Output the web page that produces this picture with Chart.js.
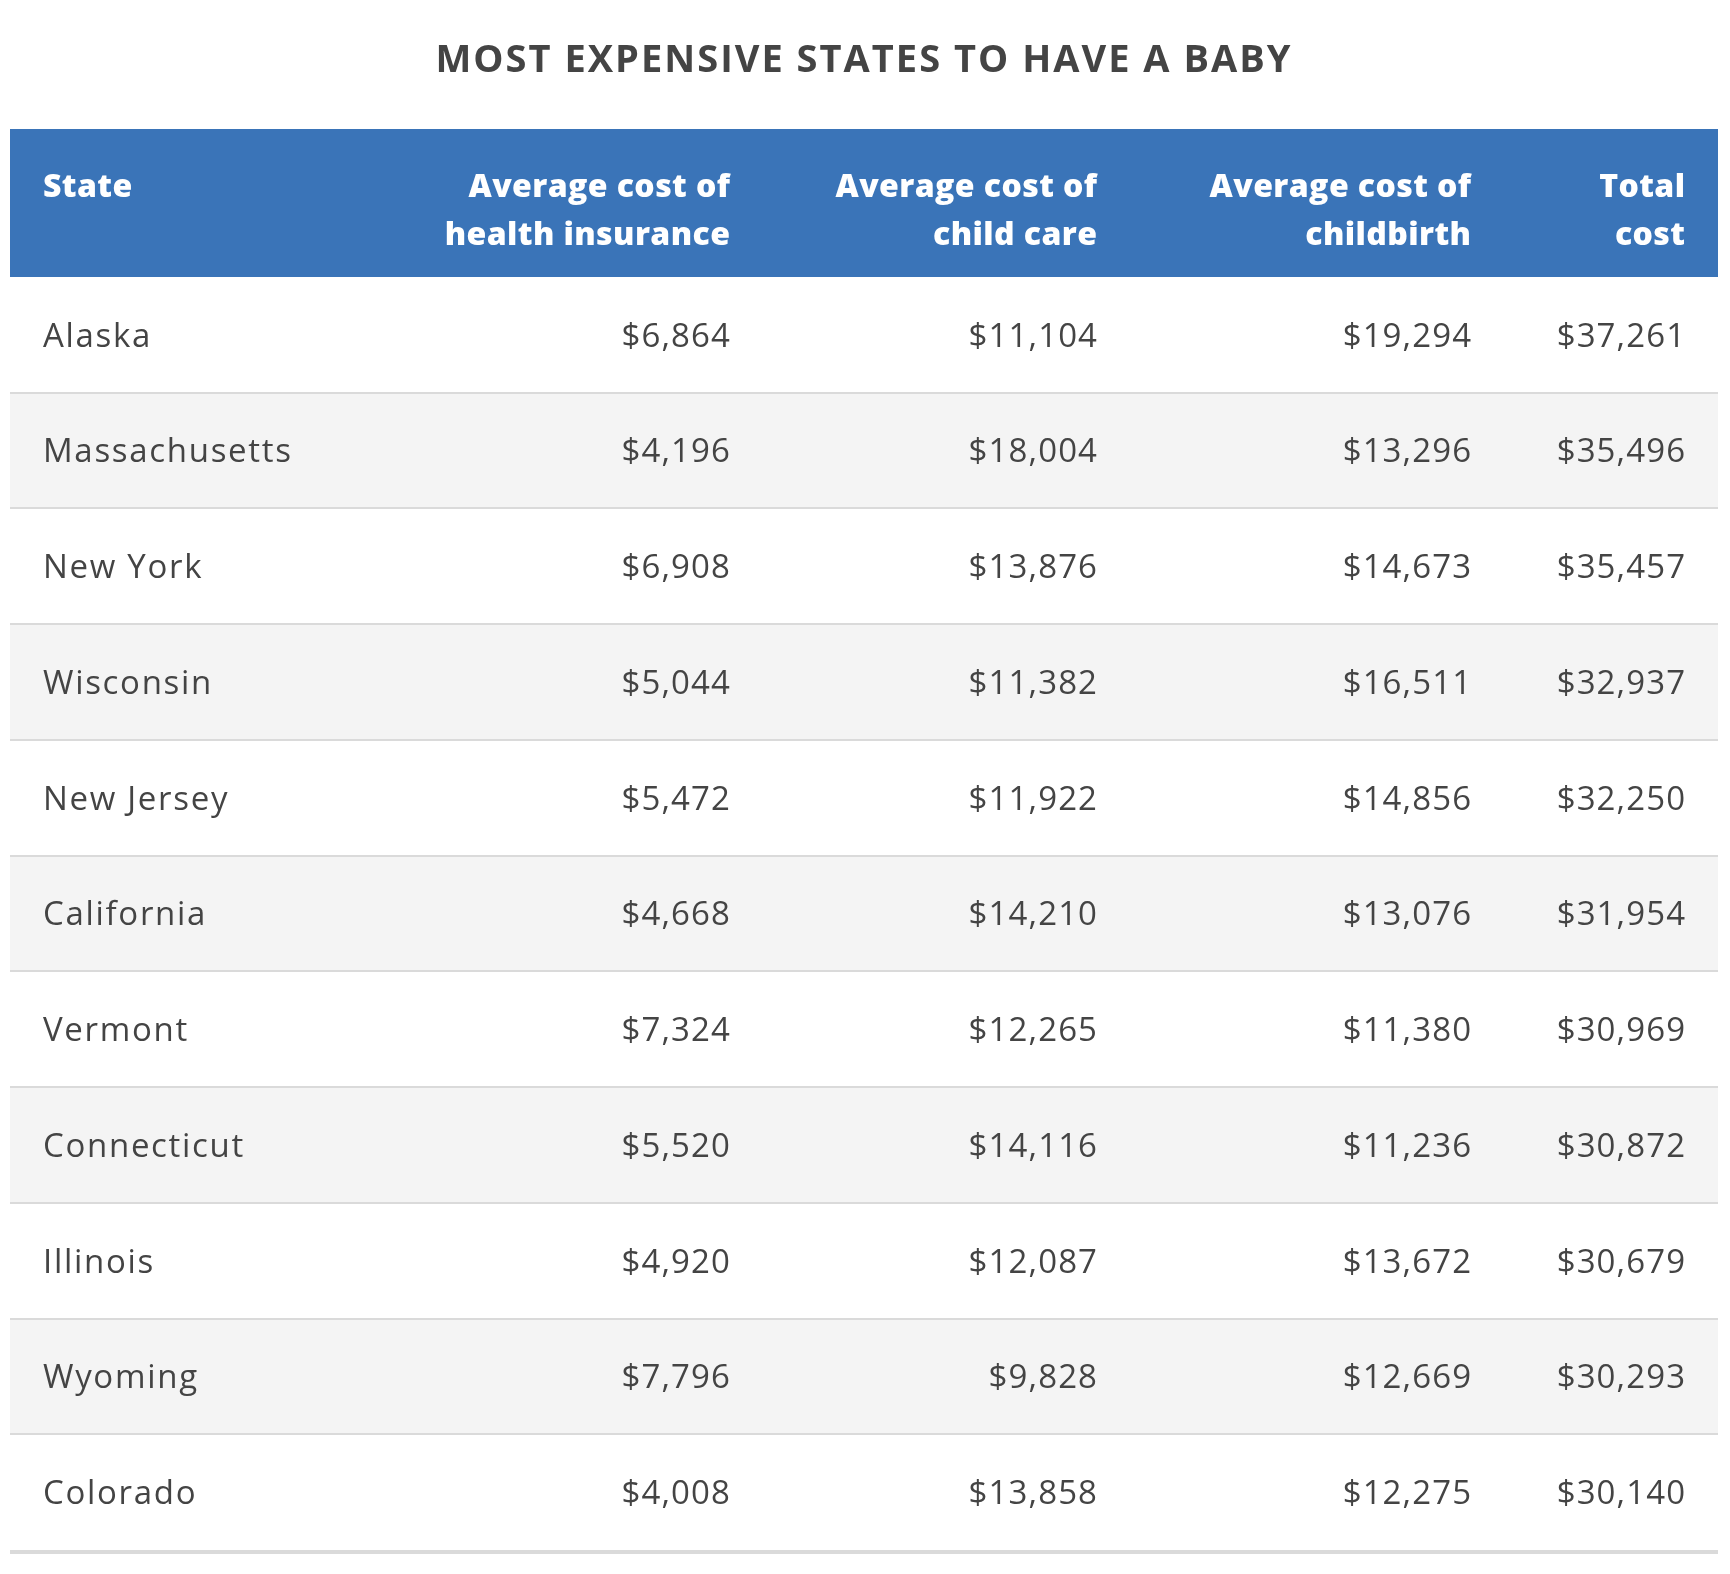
<!DOCTYPE html>
<html>
<head>
<meta charset="utf-8">
<title>Most expensive states to have a baby</title>
<script src="https://cdn.jsdelivr.net/npm/chart.js@4.4.1/dist/chart.umd.min.js"></script>
<style>
  html, body { margin:0; padding:0; background:#fff; }
  #wrap { width:1730px; height:1574px; position:relative; }
</style>
</head>
<body>
<div id="wrap"><canvas id="tbl"></canvas></div>
<script>
/* ── Data ────────────────────────────────────────────────────────── */
const TITLE   = 'MOST EXPENSIVE STATES TO HAVE A BABY';
const headers = [
  ['State'],
  ['Average cost of', 'health insurance'],
  ['Average cost of', 'child care'],
  ['Average cost of', 'childbirth'],
  ['Total', 'cost']
];
const states          = ['Alaska','Massachusetts','New York','Wisconsin','New Jersey','California','Vermont','Connecticut','Illinois','Wyoming','Colorado'];
const healthInsurance = [6864, 4196, 6908, 5044, 5472, 4668, 7324, 5520, 4920, 7796, 4008];
const childCare       = [11104, 18004, 13876, 11382, 11922, 14210, 12265, 14116, 12087, 9828, 13858];
const childbirth      = [19294, 13296, 14673, 16511, 14856, 13076, 11380, 11236, 13672, 12669, 12275];
const totalCost       = [37261, 35496, 35457, 32937, 32250, 31954, 30969, 30872, 30679, 30293, 30140];

/* ── Look ────────────────────────────────────────────────────────── */
const BLUE = '#3a74b8', INK = '#444444', STRIPE = '#f4f4f4', RULE = '#dadada';
const HEAD_H    = 148;
const COL_X     = [1.93, 42.15, 63.64, 85.54, 98.07];   // anchors on the 0-100 x scale
const COL_ALIGN = ['left', 'right', 'right', 'right', 'right'];
const COL_TRACK = [1.7, 1.1, 1.1, 1.1, 1.1];            // letter spacing per column, px
const F_BODY    = 33, F_HEAD = 32, F_TITLE = 38;
const FAMILY    = '"Open Sans", Roboto, sans-serif';

function fmt(n) { return '$' + n.toLocaleString('en-US'); }

const columns = [states, healthInsurance.map(fmt), childCare.map(fmt), childbirth.map(fmt), totalCost.map(fmt)];

// right-aligned text with letterSpacing carries a trailing gap; pull it back
function cellText(ctx, t, xp, yp, align, track) {
  ctx.letterSpacing = track + 'px';
  ctx.textAlign = align;
  ctx.fillText(t, align === 'right' ? xp + track : xp, yp);
}

/* ── Plugin: header, rules, cell text, title ─────────────────────── */
const tablePlugin = {
  id: 'tableCells',
  afterDatasetsDraw(chart) {
    const { ctx, scales: { x, y } } = chart;
    const step = (y.bottom - y.top) / states.length;
    ctx.save();

    // header band
    ctx.fillStyle = BLUE;
    ctx.fillRect(x.left, y.top - HEAD_H, x.right - x.left, HEAD_H);
    ctx.fillStyle = '#ffffff';
    ctx.font = `800 ${F_HEAD}px ${FAMILY}`;
    headers.forEach((lines, c) => {
      lines.forEach((t, k) => cellText(ctx, t, x.getPixelForValue(COL_X[c]), y.top - HEAD_H + 68 + k * 48, COL_ALIGN[c], 0.4));
    });

    // row rules
    states.forEach((s, i) => {
      const yb = y.getPixelForValue(i) + step / 2;
      ctx.fillStyle = RULE;
      if (i < states.length - 1) ctx.fillRect(x.left, Math.round(yb) - 1, x.right - x.left, 2);
      else ctx.fillRect(x.left, Math.round(yb), x.right - x.left, 4);
    });

    // cells
    ctx.fillStyle = INK;
    ctx.font = `${F_BODY}px ${FAMILY}`;
    ctx.textBaseline = 'alphabetic';
    columns.forEach((col, c) => {
      col.forEach((t, i) => cellText(ctx, t, x.getPixelForValue(COL_X[c]), y.getPixelForValue(i) + F_BODY * 0.36, COL_ALIGN[c], COL_TRACK[c]));
    });

    // title, tracked out to the original's width
    ctx.font = `bold ${F_TITLE}px ${FAMILY}`;
    ctx.letterSpacing = '0px';
    ctx.textAlign = 'left';
    const raw = ctx.measureText(TITLE).width;
    const ls = (855 - raw) / (TITLE.length - 1);
    ctx.letterSpacing = ls + 'px';
    ctx.fillStyle = INK;
    ctx.fillText(TITLE, chart.width / 2 - 855 / 2 - 2, 72);
    ctx.restore();
  }
};

new Chart(document.getElementById('tbl'), {
  type: 'bar',
  data: {
    labels: states,
    datasets: [{
      label: 'rows',
      data: states.map(() => [0, 100]),
      backgroundColor: states.map((_, i) => i % 2 ? STRIPE : '#ffffff'),
      borderWidth: 0,
      barPercentage: 1,
      categoryPercentage: 1
    }]
  },
  options: {
    indexAxis: 'y',
    responsive: true,
    maintainAspectRatio: false,
    animation: false,
    layout: { padding: { left: 10, right: 12, top: 277, bottom: 24 } },
    scales: {
      x: { type: 'linear', min: 0, max: 100, display: false },
      y: { type: 'category', display: false }
    },
    plugins: { legend: { display: false }, tooltip: { enabled: false }, title: { display: false } }
  },
  plugins: [tablePlugin]
});
</script>
</body>
</html>
